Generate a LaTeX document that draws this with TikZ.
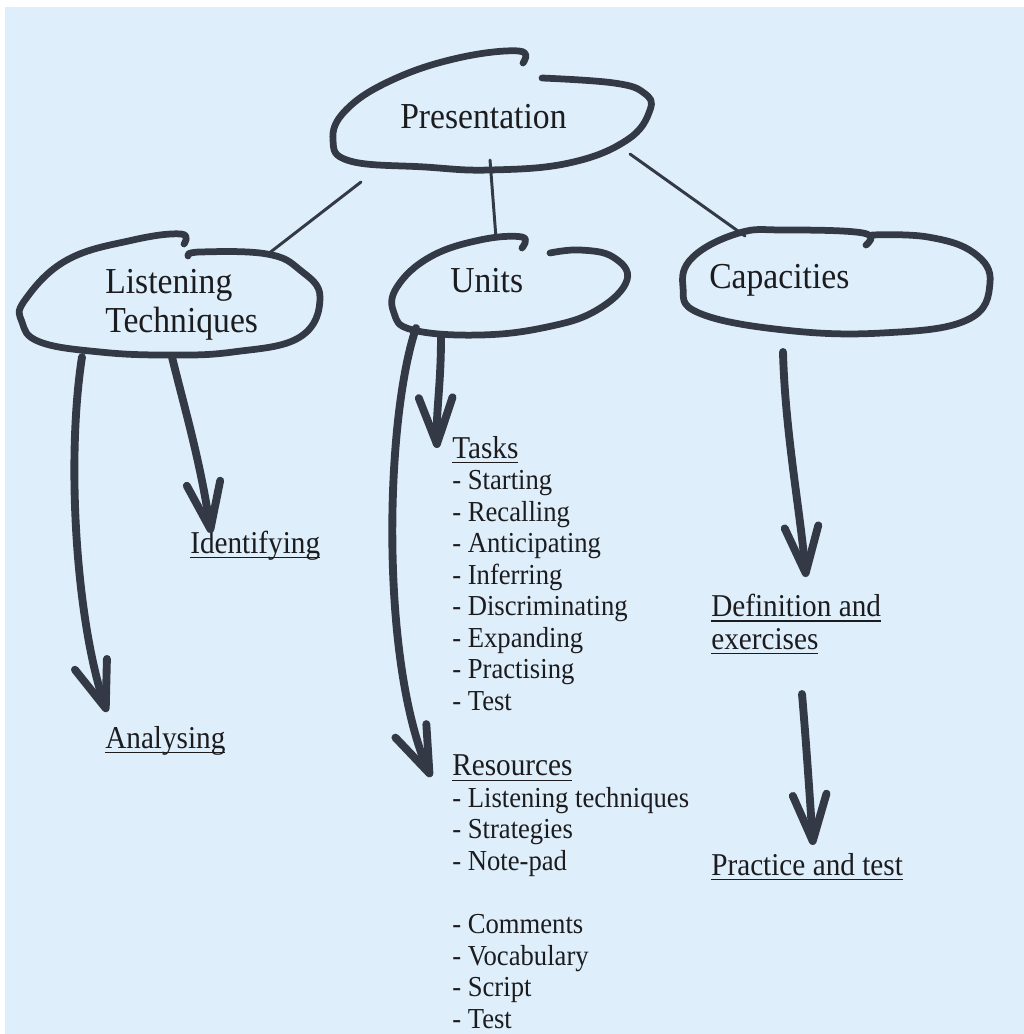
\documentclass[tikz,border=0pt]{standalone}
\usepackage{fontspec}
\setmainfont{Liberation Serif}[FakeStretch=0.92]
\usetikzlibrary{arrows.meta,calc}
\definecolor{paper}{RGB}{222,238,251}
\definecolor{marker}{RGB}{52,57,70}
\definecolor{print}{RGB}{28,28,30}
\newlength\undlwd
\newcommand\undl[1]{\settowidth\undlwd{#1}\rlap{\rule[-0.17em]{\undlwd}{0.055em}}#1}

\begin{document}
\begin{tikzpicture}[x=0.025cm,y=-0.025cm,
    bubble/.style={draw=marker,line width=4.8pt,line cap=round,line join=round},
    stem/.style={draw=marker,line width=2.1pt,line cap=round},
    pen/.style={draw=marker,line width=5.6pt,line cap=round,-{Straight Barb[length=33pt,width=24pt,round]}},
    head/.style={inner sep=0pt,anchor=base west,text=print,align=left,font=\fontsize{26}{27.6}\selectfont},
    topic/.style={inner sep=0pt,anchor=base west,text=print,align=left,font=\fontsize{22.6}{23.4}\selectfont},
    items/.style={inner sep=0pt,anchor=base west,text=print,align=left,font=\fontsize{20.6}{22.4}\selectfont}]
			%%%%% PAPER %%%%%
			\useasboundingbox (0,0) rectangle (1024,1034);
			\fill[white] (0,0) rectangle (1024,1034);
			\fill[paper] (5,7) rectangle (1024,1034);
			
			%%%%% BUBBLES %%%%%
			% multi-line nodes sit on their last baseline
			\node[head] (pres) at (400,128) {Presentation};
			\node[head] (listen) at (105,332) {Listening\\Techniques};
			\node[head] (units) at (450,292) {Units};
			\node[head] (capac) at (709,288) {Capacities};
			
			\draw[bubble] plot[smooth,tension=0.7] coordinates {(523,63) (519,51) (458,58) (392,80) (346,110) (333,140) (350,161) (425,167) (490,170) (569,163) (627,140) (650,110) (644,93) (614,83) (542,78)};
			\draw[bubble] plot[smooth,tension=0.7] coordinates {(184,244) (181,234) (133,240) (67,260) (25,300) (22,322) (40,342) (100,352) (167,355) (233,352) (300,337) (320,297) (300,270) (267,254) (200,252) (188,256)};
			\draw[bubble] plot[smooth,tension=0.7] coordinates {(522,248) (522,237) (480,240) (430,257) (397,287) (394,313) (413,330) (480,335) (547,327) (597,310) (627,280) (613,257) (580,250) (550,253)};
			\draw[bubble] plot[smooth,tension=0.7] coordinates {(866,245) (863,233) (784,230) (739,233) (693,257) (683,287) (699,313) (784,330) (882,333) (967,320) (990,283) (974,253) (928,237) (872,235)};
			
			\coordinate (pres-l) at (361,182);
			\coordinate (pres-m) at (490,160);
			\coordinate (pres-r) at (630,154);
			\coordinate (listen-t) at (268,254);
			\coordinate (units-t) at (496,238);
			\coordinate (capac-t) at (745,236);
			\draw[stem] (pres-l) -- (listen-t);
			\draw[stem] (pres-m) -- (units-t);
			\draw[stem] (pres-r) -- (capac-t);
			
			%%%%% LABELS %%%%%
			\node[topic] (ident) at (190,553) {\undl{Identifying}};
			\node[topic] (analys) at (105,748) {\undl{Analysing}};
			\node[items] (tasks) at (452,710) {{\fontsize{22.6}{22.4}\selectfont\undl{Tasks}}\\- Starting\\- Recalling\\- Anticipating\\- Inferring\\- Discriminating\\- Expanding\\- Practising\\- Test};
			\node[items] (res) at (452,1028) {{\fontsize{22.6}{22.4}\selectfont\undl{Resources}}\\- Listening techniques\\- Strategies\\- Note-pad\\[0.79cm]- Comments\\- Vocabulary\\- Script\\- Test};
			\node[topic] (defn) at (711,649) {\undl{Definition and}\\\undl{exercises}};
			\node[topic] (pract) at (711,875) {\undl{Practice and test}};
			
			%%%%% ARROWS %%%%%
			\coordinate (listen-a) at (82,357);
			\coordinate (listen-b) at (172,357);
			\coordinate (units-a) at (416,328);
			\coordinate (units-b) at (441,337);
			\coordinate (capac-a) at (783,352);
			\draw[pen] (listen-a) .. controls (66,460) and (76,620) .. ($(analys.base west)+(2,-36)$);
			\draw[pen] (listen-b) .. controls (185,410) and (200,460) .. ($(ident.base west)+(21,-20)$);
			\draw[pen] (units-b) .. controls (441,385) and (436,410) .. ($(tasks.base west)+(-15,-262)$);
			\draw[pen] (units-a) .. controls (385,420) and (380,660) .. ($(res.base west)+(-21,-251)$);
			\draw[pen] (capac-a) .. controls (785,430) and (800,510) .. ($(defn.base west)+(95,-72)$);
			\draw[pen] ($(defn.base west)+(91,45)$) .. controls (806,740) and (810,800) .. ($(pract.base west)+(102,-30)$);
		\end{tikzpicture}
\end{document}
